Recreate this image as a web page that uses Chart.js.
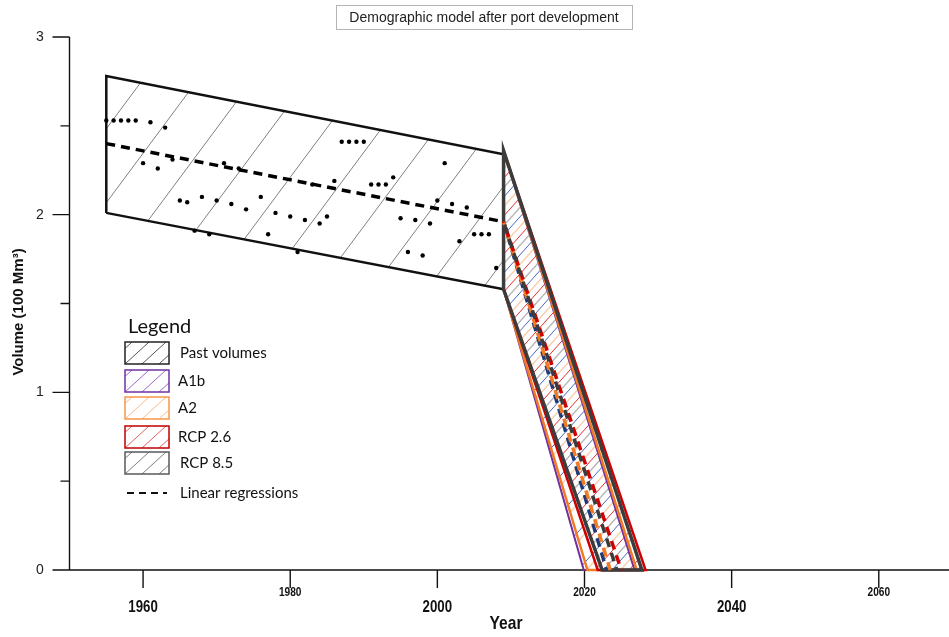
<!DOCTYPE html>
<html>
<head>
<meta charset="utf-8">
<script src="https://cdn.jsdelivr.net/npm/chart.js@4.4.1/dist/chart.umd.min.js"></script>
<style>
  html, body { margin: 0; padding: 0; background: #fff; }
  #wrap { width: 949px; height: 637px; }
</style>
</head>
<body>
<div id="wrap"><canvas id="volChart" width="949" height="637"></canvas></div>
<script>
const pastYears = [1955, 1956, 1957, 1958, 1959, 1960, 1961, 1962, 1963, 1964, 1965, 1966, 1967, 1968, 1969,
  1970, 1971, 1972, 1973, 1974, 1976, 1977, 1978, 1980, 1981, 1982, 1983, 1984, 1985, 1986, 1987, 1988,
  1989, 1990, 1991, 1992, 1993, 1994, 1995, 1996, 1997, 1998, 1999, 2000, 2001, 2002, 2003, 2004, 2005,
  2006, 2007, 2008];
const pastVolumes = [2.53, 2.53, 2.53, 2.53, 2.53, 2.29, 2.52, 2.26, 2.49, 2.31, 2.08, 2.07, 1.91, 2.10, 1.89,
  2.08, 2.29, 2.06, 2.26, 2.03, 2.10, 1.89, 2.01, 1.99, 1.79, 1.97, 2.17, 1.95, 1.99, 2.19, 2.41, 2.41,
  2.41, 2.41, 2.17, 2.17, 2.17, 2.21, 1.98, 1.79, 1.97, 1.77, 1.95, 2.08, 2.29, 2.06, 1.85, 2.04, 1.89,
  1.89, 1.89, 1.70];

// Envelope of past volumes
const envelopeYears = [1955, 2009];
const envelopeTop = [2.78, 2.34];
const envelopeBottom = [2.01, 1.58];
const regressionYears = [1955, 2009];
const regressionValues = [2.40, 1.96];

// Scenarios after port development
const scenarioNames = ['A1b', 'A2', 'RCP 2.6', 'RCP 8.5'];
const scenarioStartYear = 2009;
const scenarioTopStart = 2.36;
const scenarioBottomStart = 1.58;
const scenarioTopEnd = [2026.8, 2027.1, 2028.3, 2027.8];     // upper edge reaches 0
const scenarioBottomEnd = [2019.9, 2020.4, 2021.8, 2022.4];  // lower edge reaches 0
const scenarioRegStart = 1.96;
const scenarioRegEnd = [2023.0, 2023.5, 2025.0, 2024.4];

// Axis ticks
const xTicks = [1960, 1980, 2000, 2020, 2040, 2060];
const yTicks = [0, 1, 2, 3];
const yMinorTicks = [0.5, 1.5, 2.5];

const edgeColors = ['#7030a0', '#f07a25', '#d00000', '#3c3c3c'];
const edgeWidths = [2, 2.5, 2.5, 3.5];
const hatchColors = ['#4a68c0', '#f5a060', '#e03030', '#777777'];
const regColors = ['#1f3a78', '#f07a25', '#d00000', '#3c3c3c'];

// Motif de hachures (lignes diagonales)
function hatch(color, w, h, lw, tx) {
  const c = document.createElement('canvas');
  c.width = w; c.height = h;
  const g = c.getContext('2d');
  g.strokeStyle = color;
  g.lineWidth = lw;
  g.beginPath();
  for (let k = -1; k <= 1; k++) {
    g.moveTo(k * w, h);
    g.lineTo(k * w + w, 0);
  }
  g.stroke();
  const p = g.createPattern(c, 'repeat');
  p.setTransform(new DOMMatrix([1, 0, 0, 1, tx, 0]));
  return p;
}

// texte "narrow" : on compresse horizontalement
function narrowText(ctx, text, x, y, sx) {
  ctx.save();
  ctx.translate(x, y);
  ctx.scale(sx, 1);
  ctx.fillText(text, 0, 0);
  ctx.restore();
}

const ctx = document.getElementById('volChart').getContext('2d');

const envelopePoly = [
  { x: envelopeYears[0], y: envelopeBottom[0] },
  { x: envelopeYears[0], y: envelopeTop[0] },
  { x: envelopeYears[1], y: envelopeTop[1] },
  { x: envelopeYears[1], y: envelopeBottom[1] },
  { x: envelopeYears[0], y: envelopeBottom[0] }
];

const datasets = [];

datasets.push({
  type: 'scatter',
  data: pastYears.map((yr, i) => ({ x: yr, y: pastVolumes[i] })),
  pointRadius: 2.2,
  pointBackgroundColor: '#000',
  pointBorderWidth: 0,
  order: 10
});

datasets.push({
  type: 'line',
  data: regressionYears.map((yr, i) => ({ x: yr, y: regressionValues[i] })),
  borderColor: '#000',
  borderWidth: 3.5,
  borderDash: [9, 6],
  pointRadius: 0,
  fill: false,
  order: 11
});

datasets.push({
  type: 'line',
  data: envelopePoly,
  borderColor: '#111',
  borderWidth: 2.5,
  backgroundColor: hatch('#808080', 55, 74, 1, 37),
  fill: 'shape',
  pointRadius: 0,
  order: 50
});

scenarioNames.forEach((name, i) => {
  datasets.push({
    type: 'line',
    label: name,
    data: [
      { x: scenarioStartYear, y: scenarioBottomStart },
      { x: scenarioStartYear, y: scenarioTopStart },
      { x: scenarioTopEnd[i], y: 0 },
      { x: scenarioBottomEnd[i], y: 0 },
      { x: scenarioStartYear, y: scenarioBottomStart }
    ],
    borderColor: edgeColors[i],
    borderWidth: edgeWidths[i],
    backgroundColor: hatch(hatchColors[i], 34, 38, 1, i * 8.5),
    fill: 'shape',
    pointRadius: 0,
    order: 40 - i
  });
  datasets.push({
    type: 'line',
    data: [
      { x: scenarioStartYear, y: scenarioRegStart },
      { x: scenarioRegEnd[i], y: 0 }
    ],
    borderColor: regColors[i],
    borderWidth: 3.5,
    borderDash: [9, 6],
    borderDashOffset: i * 4,
    pointRadius: 0,
    fill: false,
    order: 23 - i
  });
});

// Axes, titre et légende dessinés à la main
const decor = {
  id: 'decor',
  beforeDatasetsDraw(chart) {
    const { ctx, scales: { x, y } } = chart;
    const x0 = x.getPixelForValue(x.min);
    const y0 = y.getPixelForValue(0);
    ctx.save();
    ctx.strokeStyle = '#111';
    ctx.lineWidth = 1.4;
    ctx.beginPath();
    ctx.moveTo(x0, y.getPixelForValue(y.max));
    ctx.lineTo(x0, y0);
    ctx.moveTo(x0 - 17, y0);
    ctx.lineTo(chart.width, y0);
    yTicks.forEach(v => {
      const py = y.getPixelForValue(v);
      ctx.moveTo(x0 - 17, py); ctx.lineTo(x0, py);
    });
    yMinorTicks.forEach(v => {
      const py = y.getPixelForValue(v);
      ctx.moveTo(x0 - 9, py); ctx.lineTo(x0, py);
    });
    xTicks.forEach(v => {
      const px = x.getPixelForValue(v);
      ctx.moveTo(px, y0); ctx.lineTo(px, y0 + 18);
    });
    ctx.stroke();
    ctx.restore();
  },
  afterDraw(chart) {
    const { ctx, scales: { x, y } } = chart;
    const y0 = y.getPixelForValue(0);
    ctx.save();
    ctx.fillStyle = '#222';
    ctx.textBaseline = 'middle';
    ctx.textAlign = 'center';

    // y tick labels
    ctx.font = '14px "Liberation Sans", Arial, sans-serif';
    yTicks.forEach(v => ctx.fillText(String(v), 40, y.getPixelForValue(v)));

    // x tick labels, alternating size
    ctx.fillStyle = '#111';
    xTicks.forEach((v, i) => {
      const big = i % 2 === 0;
      ctx.font = big ? 'bold 17px "Liberation Sans", Arial, sans-serif'
                     : 'bold 13px "Liberation Sans", Arial, sans-serif';
      narrowText(ctx, String(v), x.getPixelForValue(v), big ? y0 + 37 : y0 + 22, 0.78);
    });

    ctx.font = 'bold 19px "Liberation Sans", Arial, sans-serif';
    narrowText(ctx, 'Year', 506, 624, 0.82);

    ctx.save();
    ctx.translate(19, 312);
    ctx.rotate(-Math.PI / 2);
    ctx.font = 'bold 15px "Liberation Sans", Arial, sans-serif';
    ctx.fillText('Volume (100 Mm³)', 0, 0);
    ctx.restore();

    // titre encadré
    ctx.strokeStyle = '#b4b4b4';
    ctx.lineWidth = 1;
    ctx.strokeRect(336.5, 5.5, 296, 24);
    ctx.fillStyle = '#222';
    ctx.font = '14px "Liberation Sans", Arial, sans-serif';
    ctx.fillText('Demographic model after port development', 484, 18);

    // légende
    ctx.textAlign = 'left';
    ctx.font = '20px Lato, "Open Sans", sans-serif';
    ctx.fillStyle = '#111';
    ctx.fillText('Legend', 128, 327);
    const items = [
      { label: 'Past volumes', border: '#222', hatch: '#555', top: 342, tx: 180 },
      { label: scenarioNames[0], border: '#7030a0', hatch: '#9966cc', top: 370, tx: 178 },
      { label: scenarioNames[1], border: '#f79646', hatch: '#f8b88a', top: 397, tx: 178 },
      { label: scenarioNames[2], border: '#c00000', hatch: '#e06060', top: 426, tx: 178 },
      { label: scenarioNames[3], border: '#595959', hatch: '#7f7f7f', top: 452, tx: 180 }
    ];
    ctx.font = '15px Lato, "Open Sans", sans-serif';
    items.forEach(it => {
      const bx = 125, bw = 44, bh = 22, by = it.top;
      ctx.save();
      ctx.beginPath();
      ctx.rect(bx, by, bw, bh);
      ctx.clip();
      ctx.strokeStyle = it.hatch;
      ctx.lineWidth = 1;
      ctx.beginPath();
      for (let k = -1; k < 4; k++) {
        const sx = bx + k * 17;
        ctx.moveTo(sx, by + bh);
        ctx.lineTo(sx + 24, by);
      }
      ctx.stroke();
      ctx.restore();
      ctx.strokeStyle = it.border;
      ctx.lineWidth = 1.5;
      ctx.strokeRect(bx, by, bw, bh);
      ctx.fillStyle = '#111';
      ctx.fillText(it.label, it.tx, by + bh / 2);
    });
    ctx.strokeStyle = '#111';
    ctx.lineWidth = 2;
    ctx.setLineDash([7, 5]);
    ctx.beginPath();
    ctx.moveTo(127, 493);
    ctx.lineTo(167, 493);
    ctx.stroke();
    ctx.setLineDash([]);
    ctx.fillText('Linear regressions', 180, 493);
    ctx.restore();
  }
};

new Chart(ctx, {
  type: 'line',
  data: { datasets: datasets },
  options: {
    responsive: false,
    animation: false,
    layout: { padding: { left: 69.5, right: 0, top: 37, bottom: 67 } },
    scales: {
      x: { type: 'linear', min: 1950, max: 2069, display: false },
      y: { type: 'linear', min: 0, max: 3, display: false }
    },
    elements: { line: { tension: 0 } },
    datasets: { line: { clip: false }, scatter: { clip: false } },
    plugins: {
      legend: { display: false },
      tooltip: { enabled: false },
      filler: { drawTime: 'beforeDatasetsDraw' }
    }
  },
  plugins: [decor]
});
</script>
</body>
</html>
